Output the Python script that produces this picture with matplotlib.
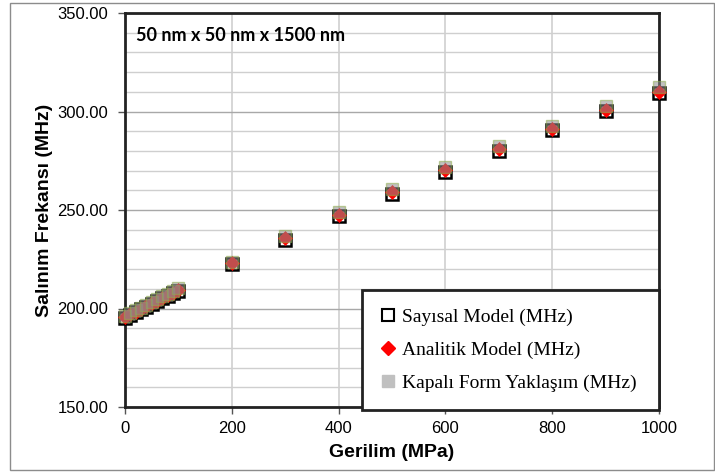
import matplotlib.pyplot as plt
from matplotlib.lines import Line2D
from matplotlib.patches import Rectangle

# stress values (MPa)
gerilim = [0, 10, 20, 30, 40, 50, 60, 70, 80, 90, 100,
           200, 300, 400, 500, 600, 700, 800, 900, 1000]

# frequencies (MHz)
sayisal = [195.3, 196.8, 198.2, 199.6, 201.0, 202.4, 203.8, 205.1, 206.5, 207.8, 209.1,
           222.5, 235.0, 246.8, 258.2, 269.5, 280.2, 290.5, 300.4, 309.2]
analitik = [195.5, 197.0, 198.4, 199.8, 201.2, 202.6, 204.0, 205.4, 206.7, 208.1, 209.4,
            223.0, 235.6, 247.6, 259.0, 270.1, 280.8, 291.1, 301.0, 309.8]
kapali = [196.0, 197.5, 199.0, 200.4, 201.9, 203.3, 204.7, 206.1, 207.5, 208.9, 210.3,
          223.6, 236.7, 249.0, 260.9, 271.8, 282.3, 292.8, 302.6, 312.4]

labels = ['Sayısal Model (MHz)', 'Analitik Model (MHz)', 'Kapalı Form Yaklaşım (MHz)']
title = '50 nm x 50 nm x 1500 nm'

W, H = 715, 472
fig = plt.figure(figsize=(W / 100, H / 100), dpi=100)
# thin grey chart-area border
fig.patches.append(Rectangle((10 / W, 1 - 470 / H), (W - 11) / W, 467 / H,
                             transform=fig.transFigure, fill=False,
                             edgecolor='#8c8c8c', linewidth=1))

ax = fig.add_axes([125 / W, 1 - 407 / H, 534 / W, 394 / H])

ax.set_xlim(0, 1000)
ax.set_ylim(150, 350)
ax.set_xticks(range(0, 1001, 200))
ax.set_yticks(range(150, 351, 50))
ax.set_yticks(range(150, 351, 10), minor=True)
ax.yaxis.set_major_formatter(plt.FormatStrFormatter('%.2f'))

ax.grid(axis='y', which='minor', color='#cfcfcf', linewidth=1)
ax.grid(axis='y', which='major', color='#a8a8a8', linewidth=1)
ax.grid(axis='x', which='major', color='#d0d0d0', linewidth=1.2)
ax.set_axisbelow(True)

for s in ax.spines.values():
    s.set_linewidth(2)
    s.set_color('#222222')

ax.tick_params(axis='both', which='major', direction='out', length=5, width=1,
               color='#555555', labelsize=12, pad=5)
ax.tick_params(axis='y', which='minor', length=0)
ax.tick_params(axis='y', pad=7)
for t in ax.get_xticklabels() + ax.get_yticklabels():
    t.set_fontfamily('Liberation Sans')

ax.plot(gerilim, sayisal, linestyle='none', marker='s', markersize=9,
        markerfacecolor='none', markeredgecolor='black', markeredgewidth=1.8,
        clip_on=False, zorder=3)
ax.plot(gerilim, analitik, linestyle='none', marker='D', markersize=7,
        markerfacecolor='#ff0000', markeredgecolor='#ff0000', markeredgewidth=0.5,
        clip_on=False, zorder=4)
ax.plot(gerilim, kapali, linestyle='none', marker='s', markersize=8.5,
        markerfacecolor='#8e8e8e', markeredgecolor='#8fae4f', markeredgewidth=1,
        alpha=0.55, clip_on=False, zorder=5)

ax.set_xlabel('Gerilim (MPa)', fontsize=14, fontweight='bold', family='Liberation Sans')
ax.set_ylabel('Salınım Frekansı (MHz)', fontsize=14, fontweight='bold', family='Liberation Sans')
ax.xaxis.set_label_coords(0.5, -0.094)
ax.yaxis.set_label_coords(-0.134, 0.5)

ax.text(0.02, 0.944, title, transform=ax.transAxes, fontsize=13, fontweight='bold',
        family='Lato', va='center', ha='left')

handles = [
    Line2D([], [], linestyle='none', marker='s', markersize=9, markerfacecolor='white',
           markeredgecolor='black', markeredgewidth=1.5),
    Line2D([], [], linestyle='none', marker='D', markersize=7, markerfacecolor='#ff0000',
           markeredgecolor='#ff0000'),
    Line2D([], [], linestyle='none', marker='s', markersize=9, markerfacecolor='#c0c0c0',
           markeredgecolor='#c0c0c0'),
]
x0 = (362 - 125) / 534
h0 = (407 - 290) / 394
leg = ax.legend(handles, labels, loc='upper left', mode='expand',
                bbox_to_anchor=(x0, 0, 1 - x0, h0), borderaxespad=0,
                prop={'family': 'Liberation Serif', 'size': 14},
                handlelength=0.8, handletextpad=0.3, labelspacing=0.78,
                borderpad=0.95, fancybox=False, framealpha=1)
leg.get_frame().set_edgecolor('#222222')
leg.get_frame().set_linewidth(2)
leg.set_zorder(10)

fig.savefig('out.png', dpi=100)
